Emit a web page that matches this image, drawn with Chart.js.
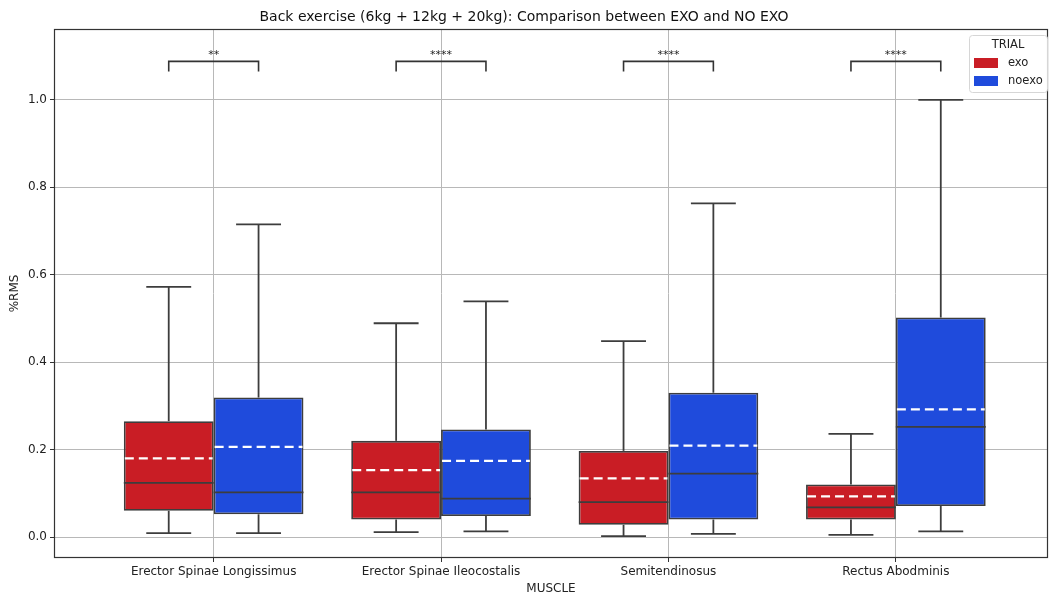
<!DOCTYPE html>
<html>
<head>
<meta charset="utf-8">
<script src="https://cdn.jsdelivr.net/npm/chart.js@4.4.1/dist/chart.umd.min.js"></script>
<style>
  html, body { margin: 0; padding: 0; background: #fff; }
  #wrap { width: 1049px; height: 597px; }
</style>
</head>
<body>
<div id="wrap"><canvas id="myChart" width="1049" height="597"></canvas></div>
<script>
// data
const muscles = ['Erector Spinae Longissimus', 'Erector Spinae Ileocostalis', 'Semitendinosus', 'Rectus Abodminis'];
const trials = ['exo', 'noexo'];

const exoMin    = [0.009, 0.011, 0.002, 0.005];
const exoQ1     = [0.060, 0.040, 0.028, 0.040];
const exoMedian = [0.124, 0.102, 0.080, 0.068];
const exoQ3     = [0.265, 0.220, 0.197, 0.120];
const exoMax    = [0.572, 0.489, 0.448, 0.236];
const exoMean   = [0.180, 0.153, 0.134, 0.093];

const noexoMin    = [0.009, 0.013, 0.007, 0.013];
const noexoQ1     = [0.052, 0.048, 0.040, 0.071];
const noexoMedian = [0.102, 0.088, 0.145, 0.252];
const noexoQ3     = [0.319, 0.246, 0.330, 0.502];
const noexoMax    = [0.715, 0.539, 0.763, 1.000];
const noexoMean   = [0.206, 0.174, 0.209, 0.292];

const sigLabels = ['**', '****', '****', '****'];
const bracketLow = 1.065;
const bracketHigh = 1.088;

const yTicks = [0.0, 0.2, 0.4, 0.6, 0.8, 1.0];

const RED = 'rgb(201,29,37)';
const BLUE = 'rgb(31,75,220)';
const EDGE = '#3d3d3d';
const FONT = "'DejaVu Sans', sans-serif";

const stats = [
  { min: exoMin, q1: exoQ1, med: exoMedian, q3: exoQ3, max: exoMax, mean: exoMean },
  { min: noexoMin, q1: noexoQ1, med: noexoMedian, q3: noexoQ3, max: noexoMax, mean: noexoMean }
];

function line(ctx, x1, y1, x2, y2) {
  ctx.beginPath();
  ctx.moveTo(x1, y1);
  ctx.lineTo(x2, y2);
  ctx.stroke();
}

const boxExtras = {
  id: 'boxExtras',
  afterDatasetsDraw(chart) {
    const ctx = chart.ctx;
    const y = chart.scales.y;
    ctx.save();
    stats.forEach((s, d) => {
      const meta = chart.getDatasetMeta(d);
      meta.data.forEach((bar, i) => {
        const x = bar.x, w = bar.width;
        const pq1 = y.getPixelForValue(s.q1[i]);
        const pq3 = y.getPixelForValue(s.q3[i]);
        const pmin = y.getPixelForValue(s.min[i]);
        const pmax = y.getPixelForValue(s.max[i]);
        const pmed = y.getPixelForValue(s.med[i]);
        const pmean = y.getPixelForValue(s.mean[i]);
        ctx.strokeStyle = EDGE;
        ctx.lineWidth = 1.8;
        ctx.setLineDash([]);
        // whiskers
        line(ctx, x, pq3, x, pmax);
        line(ctx, x, pq1, x, pmin);
        line(ctx, x - w / 4, pmax, x + w / 4, pmax);
        line(ctx, x - w / 4, pmin, x + w / 4, pmin);
        // median
        line(ctx, x - w / 2, pmed, x + w / 2, pmed);
        // mean
        ctx.strokeStyle = '#fff';
        ctx.lineWidth = 2.2;
        ctx.setLineDash([9, 5]);
        line(ctx, x - w / 2 + 1, pmean, x + w / 2 - 1, pmean);
      });
    });
    ctx.setLineDash([]);

    // significance brackets
    const m0 = chart.getDatasetMeta(0), m1 = chart.getDatasetMeta(1);
    const yl = y.getPixelForValue(bracketLow), yh = y.getPixelForValue(bracketHigh);
    ctx.strokeStyle = '#333';
    ctx.lineWidth = 1.6;
    sigLabels.forEach((lab, i) => {
      const x1 = m0.data[i].x, x2 = m1.data[i].x;
      ctx.beginPath();
      ctx.moveTo(x1, yl);
      ctx.lineTo(x1, yh);
      ctx.lineTo(x2, yh);
      ctx.lineTo(x2, yl);
      ctx.stroke();
      ctx.fillStyle = '#222';
      ctx.font = '11px ' + FONT;
      ctx.textAlign = 'center';
      ctx.textBaseline = 'bottom';
      ctx.fillText(lab, (x1 + x2) / 2, yh - 1);
    });
    ctx.restore();
  },
  afterDraw(chart) {
    const ctx = chart.ctx;
    const a = chart.chartArea;
    ctx.save();
    // frame
    ctx.strokeStyle = '#333';
    ctx.lineWidth = 1.2;
    ctx.strokeRect(a.left + 0.5, a.top + 0.5, a.right - a.left - 1, a.bottom - a.top - 1);

    // legend
    const lx = 969, ly = 35, lw = 78, lh = 57;
    ctx.fillStyle = 'rgba(255,255,255,0.85)';
    ctx.strokeStyle = '#d6d6d6';
    ctx.lineWidth = 1;
    ctx.beginPath();
    ctx.roundRect(lx + 0.5, ly + 0.5, lw, lh, 3);
    ctx.fill();
    ctx.stroke();
    ctx.fillStyle = '#222';
    ctx.font = '11.5px ' + FONT;
    ctx.textAlign = 'center';
    ctx.textBaseline = 'middle';
    ctx.fillText('TRIAL', lx + lw / 2, ly + 10);
    chart.data.datasets.forEach((ds, k) => {
      const ry = ly + 23 + k * 18;
      ctx.fillStyle = ds.backgroundColor;
      ctx.fillRect(lx + 5, ry, 24, 10);
      ctx.fillStyle = '#222';
      ctx.textAlign = 'left';
      ctx.fillText(ds.label, lx + 39, ry + 5);
    });
    ctx.restore();
  }
};

function makeData(q1, q3) {
  return muscles.map((m, i) => ({ x: i, y: [q1[i], q3[i]] }));
}

const ctx = document.getElementById('myChart').getContext('2d');
const myChart = new Chart(ctx, {
  type: 'bar',
  data: {
    datasets: [{
      label: trials[0],
      data: makeData(exoQ1, exoQ3),
      backgroundColor: RED,
      borderColor: EDGE,
      borderWidth: 1.8,
      borderSkipped: false
    }, {
      label: trials[1],
      data: makeData(noexoQ1, noexoQ3),
      backgroundColor: BLUE,
      borderColor: EDGE,
      borderWidth: 1.8,
      borderSkipped: false
    }]
  },
  options: {
    responsive: false,
    animation: false,
    categoryPercentage: 0.79,
    barPercentage: 1.0,
    layout: { padding: { right: 1 } },
    plugins: {
      legend: { display: false },
      tooltip: { enabled: false },
      title: {
        display: true,
        text: 'Back exercise (6kg + 12kg + 20kg): Comparison between EXO and NO EXO',
        color: '#111',
        font: { family: FONT, size: 14, weight: 'normal' },
        padding: { top: 9, bottom: 3.2 }
      }
    },
    scales: {
      x: {
        type: 'linear',
        min: -0.702,
        max: 3.669,
        offset: false,
        afterBuildTicks: axis => { axis.ticks = muscles.map((m, i) => ({ value: i })); },
        afterFit: axis => { axis.height = 39; },
        ticks: {
          callback: v => muscles[v],
          color: '#222',
          font: { family: FONT, size: 12 },
          padding: 3,
          maxRotation: 0
        },
        grid: { color: '#b8b8b8', tickColor: '#333', tickLength: 4, offset: false },
        border: { display: false },
        title: {
          display: true,
          text: 'MUSCLE',
          color: '#222',
          font: { family: FONT, size: 12 },
          padding: { top: 0, bottom: 1 }
        }
      },
      y: {
        min: -0.048,
        max: 1.162,
        afterBuildTicks: axis => { axis.ticks = yTicks.map(v => ({ value: v })); },
        afterFit: axis => { axis.width = 54; },
        ticks: {
          callback: v => v.toFixed(1),
          color: '#222',
          font: { family: FONT, size: 12 },
          padding: 3
        },
        grid: { color: '#b8b8b8', tickColor: '#333', tickLength: 4 },
        border: { display: false },
        title: {
          display: true,
          text: '%RMS',
          color: '#222',
          font: { family: FONT, size: 12 },
          padding: { top: 8, bottom: 0 }
        }
      }
    }
  },
  plugins: [boxExtras]
});
</script>
</body>
</html>
